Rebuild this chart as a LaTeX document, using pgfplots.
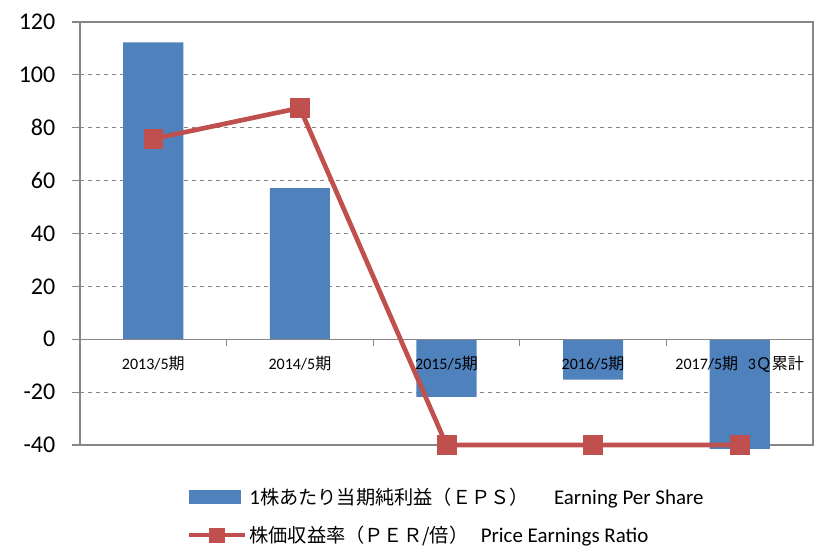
\documentclass[border=0pt]{standalone}
\usepackage{fontspec}
\setmainfont{Carlito}
\newfontfamily\cjk{Noto Sans CJK JP}
\usepackage{pgfplots}
\pgfplotsset{compat=1.18}
\definecolor{epsblue}{HTML}{4F81BD}
\definecolor{perred}{HTML}{C0504D}
\definecolor{axgray}{HTML}{868686}
\pgfplotsset{
  barlegend/.style={legend image code/.code={\fill[epsblue] (0pt,-5.5pt) rectangle (39pt,5.5pt);}},
  linelegend/.style={legend image code/.code={\draw[##1, line width=3pt, mark size=5.5pt, mark repeat=2, mark phase=2]
    plot coordinates {(0pt,0pt) (21pt,0pt) (42pt,0pt)};}},
}
\tikzset{catlabel/.style={anchor=north, yshift=-9pt, font=\fontsize{12}{13}\selectfont}}

\begin{document}
\begin{tikzpicture}
\begin{axis}[
  name=ax,
  scale only axis, width=549.75pt, height=317.25pt,
  xmin=-0.5, xmax=4.5, ymin=-40, ymax=120,
  ytick={-40,-20,...,120},
  xtick=\empty,
  yticklabel style={font=\fontsize{18}{20}\selectfont, xshift=-9pt},
  /pgf/number format/assume math mode=true,
  tick align=outside, ytick pos=left, major tick length=6pt,
  y tick style={axgray, line width=0.8pt},
  axis line style={axgray, line width=1pt},
  ymajorgrids, major grid style={axgray, dashed, line width=0.8pt},
  clip=false,
  legend style={at={(0.5,-0.088)}, anchor=north, draw=none, fill=none,
    font=\fontsize{15.7}{18}\selectfont, row sep=11pt},
  legend cell align=left,
]
\addplot[ybar, bar width=0.41, fill=epsblue, draw=none, barlegend]
  coordinates {(0,112.3) (1,57.2) (2,-21.8) (3,-15.3) (4,-41.5)};
\addlegendentry{1{\cjk\fontsize{14.4}{18}\selectfont 株あたり当期純利益（ＥＰＳ）}\hspace{1.2em}Earning Per Share}
\draw[axgray, line width=1pt] (axis cs:-0.5,0) -- (axis cs:4.5,0);
\node[catlabel] at (axis cs:0,0) {2013/5{\cjk 期}};
\node[catlabel] at (axis cs:1,0) {2014/5{\cjk 期}};
\node[catlabel] at (axis cs:2,0) {2015/5{\cjk 期}};
\node[catlabel] at (axis cs:3,0) {2016/5{\cjk 期}};
\node[catlabel] at (axis cs:4,0) {2017/5{\cjk 期}\hspace{0.6em}3{\cjk Ｑ累計}};
\addplot[sharp plot, perred, line width=3.5pt, mark=square*,
  mark size=7pt, mark options={solid, line width=0.5pt}, linelegend]
  coordinates {(0,75.8) (1,87.5) (2,-40) (3,-40) (4,-40)};
\addlegendentry{{\cjk\fontsize{14.4}{18}\selectfont 株価収益率（ＰＥＲ/倍）}\hspace{0.6em}Price Earnings Ratio}
\draw[axgray, line width=0.8pt] (axis cs:0.5,0) -- ([yshift=-5pt]axis cs:0.5,0);
\draw[axgray, line width=0.8pt] (axis cs:1.5,0) -- ([yshift=-5pt]axis cs:1.5,0);
\draw[axgray, line width=0.8pt] (axis cs:2.5,0) -- ([yshift=-5pt]axis cs:2.5,0);
\draw[axgray, line width=0.8pt] (axis cs:3.5,0) -- ([yshift=-5pt]axis cs:3.5,0);
\end{axis}
\pgfresetboundingbox
\path ([xshift=-60pt, yshift=16.5pt]ax.north west) rectangle ([xshift=2.25pt, yshift=-76.5pt]ax.south east);
\end{tikzpicture}
\end{document}
